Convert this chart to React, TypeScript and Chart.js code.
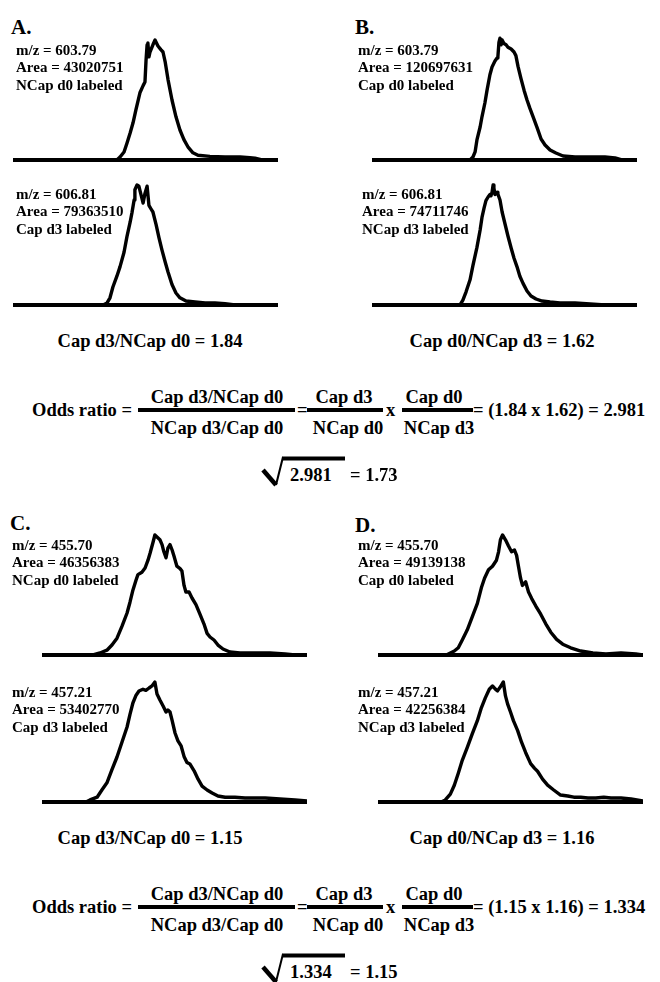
import React, { useEffect, useRef } from "react";
import { Chart, registerables } from "chart.js";
Chart.register(...registerables);

const FONT = '"Liberation Serif", "Times New Roman", Times, serif';

// ---------- peak traces (x: % of trace window, y: relative intensity) ----------
const peakA1X = [39.2, 40.4, 41.9, 43.0, 44.2, 45.3, 46.4, 47.9, 49.1, 49.8, 50.2, 50.6, 50.9, 51.3, 51.7, 52.8, 53.6, 54.7, 55.8, 56.6, 57.4, 58.5, 60.0, 61.5, 63.0, 64.5, 66.0, 67.9, 69.8, 74.3, 80.0, 85.7, 89.4, 91.3, 94.0];
const peakA1Y = [0, 2.5, 6.7, 14, 22.5, 31, 42, 56, 62, 65, 83, 96, 97.5, 86, 90, 96, 100, 95, 92, 90, 82, 67, 50, 36, 25, 17, 11, 6, 4, 3, 2.5, 2.5, 2, 1.5, 0];

const peakA2X = [34.0, 35.5, 36.6, 37.7, 39.2, 40.4, 41.9, 43.0, 44.2, 44.9, 45.7, 46.0, 46.8, 47.5, 48.3, 49.1, 49.8, 50.6, 50.9, 51.3, 52.1, 52.8, 54.0, 55.1, 56.2, 57.4, 58.5, 60.0, 61.5, 63.0, 65.3, 68.7, 72.5, 76.2, 80.0, 83.8];
const peakA2Y = [0, 1.7, 6, 15, 24, 32, 44, 57, 69, 77, 87.5, 96, 100, 99, 92, 85, 93, 99, 99, 83, 80, 77.5, 67, 56, 46, 36, 27.5, 17, 10, 6, 3.3, 2.5, 1.7, 1.7, 1, 0];

const peakB1X = [37.0, 38.1, 38.9, 39.6, 40.8, 41.5, 42.6, 43.4, 44.5, 45.3, 46.4, 47.2, 47.5, 47.9, 48.3, 48.7, 49.1, 49.8, 50.6, 51.3, 52.5, 53.6, 54.3, 55.1, 56.2, 57.4, 58.5, 59.6, 60.8, 62.3, 63.8, 65.3, 67.2, 69.4, 72.1, 76.6, 82.3, 87.9, 91.7, 94.3];
const peakB1Y = [0, 2.5, 6.7, 16.7, 27.5, 36, 47.5, 58, 71, 77.5, 82.5, 85, 86, 98, 101.5, 96, 100, 97, 96, 94, 92.5, 90, 87, 78, 68, 58, 50, 43, 36, 27, 17.5, 12.5, 8.3, 5.8, 3.3, 2.5, 2.5, 2.5, 1.7, 0];

const peakB2X = [33.2, 34.3, 35.5, 37.0, 38.1, 39.6, 40.8, 41.5, 42.3, 43.0, 43.8, 44.5, 44.9, 45.3, 45.7, 46.0, 46.4, 47.2, 47.5, 48.3, 49.1, 50.2, 51.3, 52.5, 53.6, 54.7, 55.8, 57.0, 58.5, 60.0, 61.9, 64.2, 67.2, 70.9, 76.6, 82.3, 87.9];
const peakB2Y = [0, 4, 11, 21, 33, 48, 62.5, 73, 81, 87, 90, 92, 91, 94, 100, 97.5, 92, 94, 92.5, 87.5, 77.5, 67.5, 57.5, 47.5, 39, 32, 24, 18, 11.7, 7.5, 5, 3.3, 2.5, 1.7, 1.7, 0.8, 0];

const peakC1X = [19.2, 21.9, 24.5, 26.4, 28.3, 30.2, 32.1, 33.2, 34.3, 35.5, 36.2, 37.7, 38.9, 40.0, 40.8, 41.9, 42.6, 43.8, 44.5, 45.3, 46.0, 46.8, 47.5, 48.3, 49.1, 49.8, 50.9, 52.1, 52.8, 53.6, 54.3, 55.5, 56.6, 58.1, 59.6, 61.1, 62.3, 63.4, 64.9, 66.4, 68.3, 70.9, 74.7, 80.4, 86.0, 91.7, 95.5];
const peakC1Y = [0, 1.7, 4, 8.3, 14, 24, 35, 44, 54, 62.5, 67, 69, 72.5, 79, 85, 94, 100, 97.5, 96, 92, 86, 81, 89, 92, 87.5, 82.5, 74, 72, 70, 58, 52.5, 52.5, 47.5, 42, 34, 26, 18, 15, 12.5, 8.3, 5, 2.5, 1.7, 1.7, 1.7, 0.8, 0];

const peakC2X = [16.6, 18.1, 20.8, 22.6, 24.5, 26.4, 28.3, 30.2, 32.1, 33.2, 34.3, 35.5, 36.6, 38.1, 39.2, 40.4, 41.5, 42.6, 43.4, 44.5, 45.7, 46.8, 47.5, 48.3, 49.1, 50.2, 51.3, 52.5, 53.6, 54.7, 55.8, 57.4, 58.9, 60.4, 62.3, 64.2, 66.4, 69.1, 72.8, 76.6, 80.4, 84.2, 89.8, 95.5, 100];
const peakC2Y = [0, 1.7, 4, 10, 16, 27, 37.5, 50, 62.5, 73, 82.5, 89, 92.5, 94, 93, 95, 96.7, 100, 90, 85, 80, 75, 76.7, 75, 68, 57.5, 51, 46.7, 38, 33, 31.7, 26, 19, 13.3, 10, 7.5, 5, 4, 4, 3.3, 3.3, 3.3, 2.5, 1.7, 0.8];

const peakD1X = [25.8, 27.3, 28.8, 30.3, 31.8, 33.7, 35.6, 37.5, 39.0, 40.2, 41.7, 43.2, 44.7, 45.5, 46.2, 47.0, 48.1, 49.2, 50.4, 51.5, 52.3, 53.0, 53.8, 54.5, 55.7, 56.8, 58.0, 59.5, 61.4, 63.3, 65.2, 67.4, 69.7, 72.7, 76.5, 81.1, 86.0, 91.7, 97.3, 100];
const peakD1Y = [0, 1.7, 3.3, 6, 12.5, 21, 32, 43, 56, 64, 71, 74, 79, 86, 96, 100, 96, 91, 86, 87.5, 83, 74, 64, 58, 61, 52.5, 47, 41, 34, 26, 19, 13, 9, 6, 3.3, 1.7, 0.8, 1.7, 0.8, 0];

const peakD2X = [23.9, 25.4, 27.3, 28.8, 30.3, 31.8, 33.7, 35.6, 37.5, 39.0, 40.5, 42.0, 43.2, 44.3, 45.1, 46.2, 47.3, 48.1, 48.9, 50.0, 51.1, 52.7, 54.2, 55.7, 57.6, 59.1, 60.2, 62.1, 64.0, 66.3, 68.9, 71.6, 73.9, 76.5, 79.2, 82.2, 85.2, 87.9, 91.7, 95.5, 100];
const peakD2Y = [0, 1.7, 6.6, 14, 24, 34.7, 45.5, 57, 67.8, 78.5, 86.8, 94, 96.7, 94, 92.6, 96, 100, 88.4, 81.8, 75, 67.8, 59.5, 49.6, 41.3, 32, 28, 25.6, 19, 14, 10, 5.8, 5, 4, 4, 3.3, 3.3, 4, 3.3, 3.3, 2.5, 0.8];

// ---------- labels ----------
const panelLetters = ["A.", "B.", "C.", "D."];
const mzValues = ["603.79", "606.81", "603.79", "606.81", "455.70", "457.21", "455.70", "457.21"];
const areaValues = ["43020751", "79363510", "120697631", "74711746", "46356383", "53402770", "49139138", "42256384"];
const labelNames = ["NCap d0 labeled", "Cap d3 labeled", "Cap d0 labeled", "NCap d3 labeled", "NCap d0 labeled", "Cap d3 labeled", "Cap d0 labeled", "NCap d3 labeled"];
const ratioNames = ["Cap d3/NCap d0", "Cap d0/NCap d3"];
const ratioValues = ["1.84", "1.62", "1.15", "1.16"];
const oddsValues = ["2.981", "1.334"];
const sqrtValues = ["1.73", "1.15"];

const peaks = [
  [peakA1X, peakA1Y], [peakA2X, peakA2Y], [peakB1X, peakB1Y], [peakB2X, peakB2Y],
  [peakC1X, peakC1Y], [peakC2X, peakC2Y], [peakD1X, peakD1Y], [peakD2X, peakD2Y],
];

// layout (order: A1, A2, B1, B2, C1, C2, D1, D2)
const traceLeft = [13, 13, 372, 372, 42, 42, 378, 378];
const traceBase = [160, 305, 160, 305, 655, 802, 655, 802];
const textLeft = [16, 16, 358, 362, 12, 12, 358, 358];
const textTop = [50, 194, 50, 194, 545, 692, 545, 692];
const letterPos = [[11, 27], [355, 27], [10, 523], [355, 525]];

const PPU = 1.2;
const Y_MIN = -5;
const Y_MAX = 105;
const TRACE_W = 265;

function Peak({ xs, ys, left, baseY }: { xs: number[]; ys: number[]; left: number; baseY: number }) {
  const ref = useRef<HTMLCanvasElement>(null);
  const h = Math.round((Y_MAX - Y_MIN) * PPU);
  useEffect(() => {
    const chart = new Chart(ref.current as HTMLCanvasElement, {
      type: "line",
      data: {
        datasets: [
          {
            data: xs.map((x, i) => ({ x, y: ys[i] })),
            borderColor: "#000",
            borderWidth: 3.4,
            pointRadius: 0,
            tension: 0,
            fill: false,
            borderJoinStyle: "round",
          },
          {
            data: [{ x: 0, y: 0 }, { x: 100, y: 0 }],
            borderColor: "#000",
            borderWidth: 4,
            pointRadius: 0,
            fill: false,
          },
        ],
      },
      options: {
        responsive: false,
        animation: false,
        events: [],
        layout: { padding: 0 },
        plugins: { legend: { display: false }, tooltip: { enabled: false }, title: { display: false } },
        scales: {
          x: { type: "linear", min: 0, max: 100, display: false },
          y: { type: "linear", min: Y_MIN, max: Y_MAX, display: false },
        },
      },
    } as any);
    return () => chart.destroy();
  }, []);
  return (
    <canvas
      ref={ref}
      width={TRACE_W}
      height={h}
      style={{ position: "absolute", left, top: baseY - Y_MAX * PPU, width: TRACE_W, height: h }}
    />
  );
}

function Txt({ x, y, size, children, center }: { x: number; y: number; size: number; children: any; center?: boolean }) {
  return (
    <div
      style={{
        position: "absolute",
        left: center ? x - 200 : x,
        width: center ? 400 : undefined,
        textAlign: center ? "center" : "left",
        top: y - size / 2,
        height: size,
        lineHeight: `${size}px`,
        fontSize: size,
        fontFamily: FONT,
        fontWeight: "bold",
        whiteSpace: "nowrap",
        color: "#000",
      }}
    >
      {children}
    </div>
  );
}

function Bar({ x, y, w }: { x: number; y: number; w: number }) {
  return <div style={{ position: "absolute", left: x, top: y - 2, width: w, height: 4, background: "#000" }} />;
}

const FS = 18.5;

function Formula({ dy, r1, r2, odds, root }: { dy: number; r1: string; r2: string; odds: string; root: string }) {
  return (
    <>
      <Txt x={150} y={341 + dy} size={FS} center>{`${ratioNames[0]} = ${r1}`}</Txt>
      <Txt x={502} y={341 + dy} size={FS} center>{`${ratioNames[1]} = ${r2}`}</Txt>
      <Txt x={32} y={410 + dy} size={FS}>Odds ratio =</Txt>
      <Bar x={138} y={410 + dy} w={157} />
      <Txt x={217} y={397 + dy} size={FS} center>Cap d3/NCap d0</Txt>
      <Txt x={217} y={428 + dy} size={FS} center>NCap d3/Cap d0</Txt>
      <Txt x={297} y={410 + dy} size={FS}>=</Txt>
      <Bar x={307} y={410 + dy} w={76} />
      <Txt x={344} y={397 + dy} size={FS} center>Cap d3</Txt>
      <Txt x={348} y={428 + dy} size={FS} center>NCap d0</Txt>
      <Txt x={386} y={410 + dy} size={FS}>x</Txt>
      <Bar x={402} y={410 + dy} w={71} />
      <Txt x={434} y={397 + dy} size={FS} center>Cap d0</Txt>
      <Txt x={439} y={428 + dy} size={FS} center>NCap d3</Txt>
      <Txt x={473} y={410 + dy} size={FS}>{`= (${r1} x ${r2}) = ${odds}`}</Txt>
      <svg
        width={100}
        height={40}
        style={{ position: "absolute", left: 255, top: 450 + dy }}
        viewBox="255 450 100 40"
      >
        <line x1={263} y1={470} x2={276} y2={485} stroke="#000" strokeWidth={4.5} />
        <line x1={276} y1={485} x2={283} y2={457} stroke="#000" strokeWidth={2} />
        <line x1={282} y1={458.5} x2={345} y2={458.5} stroke="#000" strokeWidth={4} />
      </svg>
      <Txt x={290} y={475 + dy} size={FS}>{odds}</Txt>
      <Txt x={350} y={475 + dy} size={FS}>{`= ${root}`}</Txt>
    </>
  );
}

export default function App() {
  useEffect(() => {
    document.body.style.margin = "0";
  }, []);
  return (
    <div style={{ position: "absolute", left: 0, top: 0, width: 660, height: 982, background: "#fff", overflow: "hidden" }}>
      {panelLetters.map((l, i) => (
        <Txt key={"L" + i} x={letterPos[i][0]} y={letterPos[i][1]} size={21}>{l}</Txt>
      ))}
      {peaks.map((p, i) => (
        <React.Fragment key={"P" + i}>
          <Peak xs={p[0]} ys={p[1]} left={traceLeft[i]} baseY={traceBase[i]} />
          <Txt x={textLeft[i]} y={textTop[i]} size={15}>{`m/z = ${mzValues[i]}`}</Txt>
          <Txt x={textLeft[i]} y={textTop[i] + 17.7} size={15}>{`Area = ${areaValues[i]}`}</Txt>
          <Txt x={textLeft[i]} y={textTop[i] + 35.4} size={15}>{labelNames[i]}</Txt>
        </React.Fragment>
      ))}
      <Formula dy={0} r1={ratioValues[0]} r2={ratioValues[1]} odds={oddsValues[0]} root={sqrtValues[0]} />
      <Formula dy={497} r1={ratioValues[2]} r2={ratioValues[3]} odds={oddsValues[1]} root={sqrtValues[1]} />
    </div>
  );
}
